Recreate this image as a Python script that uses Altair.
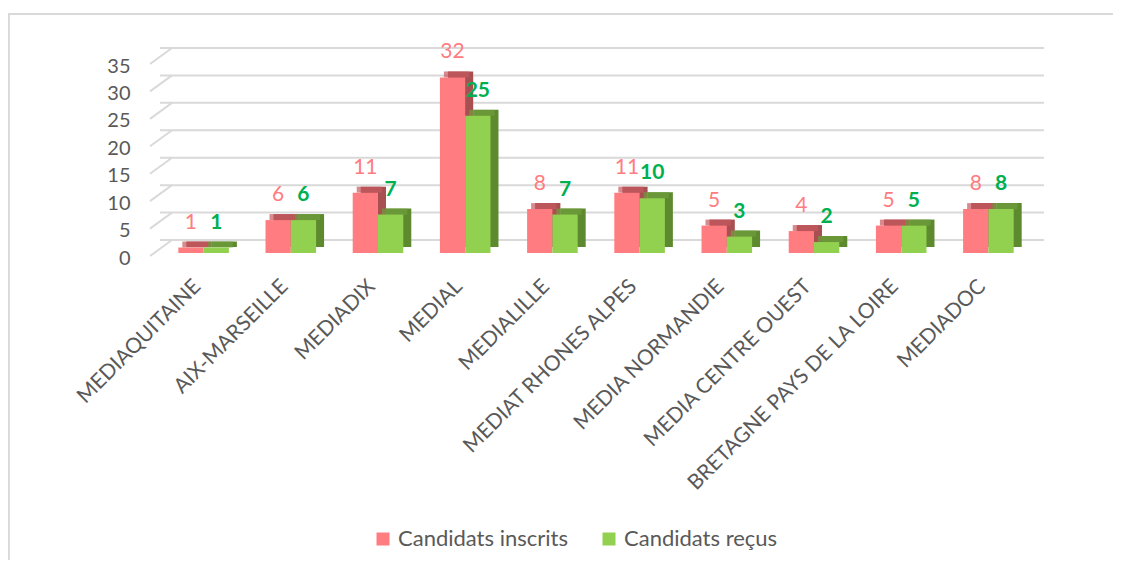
import altair as alt
import pandas as pd

categories = ["MEDIAQUITAINE", "AIX-MARSEILLE", "MEDIADIX", "MEDIAL", "MEDIALILLE",
              "MEDIAT RHONES ALPES", "MEDIA NORMANDIE", "MEDIA CENTRE OUEST",
              "BRETAGNE PAYS DE LA LOIRE", "MEDIADOC"]
inscrits = [1, 6, 11, 32, 8, 11, 5, 4, 5, 8]
recus = [1, 6, 7, 25, 7, 10, 3, 2, 5, 8]
series_names = ["Candidats inscrits", "Candidats reçus"]
y_ticks = [0, 5, 10, 15, 20, 25, 30, 35]

front_colors = ["#FF7C80", "#92D050"]
top_colors = ["#C65A5E", "#6F9E3C"]
side_colors = ["#A84F52", "#5E8A2F"]
label_colors = ["#FF7C80", "#00B050"]

rows = []
for c, a, b in zip(categories, inscrits, recus):
    rows.append({"cat": c, "series": series_names[0], "v": a})
    rows.append({"cat": c, "series": series_names[1], "v": b})
df = pd.DataFrame(rows)
grid_df = pd.DataFrame({"v": y_ticks})

FONT = "Lato"
GRAY = "#595959"
W = 872
H = 192
NCAT = len(categories)
STEP = W / NCAT
BAND = STEP * 0.58

x_enc = alt.X("cat:N", sort=categories,
              scale=alt.Scale(paddingInner=0.42, paddingOuter=0.21),
              axis=alt.Axis(title=None, labelAngle=-45, labelAlign="right",
                            labelBaseline="middle", labelPadding=30, labelLimit=0,
                            labelOffset=-6,
                            labelFontSize=21, labelFont=FONT, labelColor=GRAY,
                            domain=False, ticks=False, grid=False))


def xo(shift=0.0):
    return alt.XOffset("series:N", sort=series_names,
                       scale=alt.Scale(type="band", domain=series_names,
                                       paddingInner=0, paddingOuter=0,
                                       range=[shift, shift + BAND]))


y_scale = alt.Scale(domain=[0, 35], nice=False)
y_axis = alt.Axis(title=None, values=y_ticks, labelFontSize=20,
                  labelFont=FONT, labelColor=GRAY, labelPadding=30, labelOffset=5,
                  domain=False, ticks=False, grid=False)
y_enc = alt.Y("v:Q", scale=y_scale, axis=y_axis)

frame = alt.Chart(grid_df).mark_rect(fill=None, stroke="#D9D9D9", strokeWidth=1.5).encode(
    x=alt.value(-151.5), x2=alt.value(1000), y=alt.value(-47), y2=alt.value(700))

grid = alt.Chart(grid_df).mark_rule(color="#D9D9D9", strokeWidth=2, xOffset=12, yOffset=-13).encode(
    y=y_enc)
grid_diag = alt.Chart(grid_df).mark_rule(color="#D9D9D9", strokeWidth=2,
                                         yOffset=3, y2Offset=-13).encode(
    x=alt.value(-10), x2=alt.value(12),
    y=y_enc, y2=alt.Y2("v:Q"))

base = alt.Chart(df)

side = base.mark_bar(yOffset=-6).encode(
    x=x_enc, xOffset=xo(8), y=y_enc,
    color=alt.Color("series:N", scale=alt.Scale(domain=series_names, range=side_colors), legend=None))

top = base.mark_tick(orient="horizontal", thickness=6, size=BAND / 2, yOffset=-3).encode(
    x=x_enc, xOffset=xo(4), y=y_enc,
    color=alt.Color("series:N", scale=alt.Scale(domain=series_names, range=top_colors), legend=None))

front = base.mark_bar().encode(
    x=x_enc, xOffset=xo(), y=y_enc,
    color=alt.Color("series:N", scale=alt.Scale(domain=series_names, range=front_colors),
                    legend=alt.Legend(title=None, orient="none", legendX=212, legendY=467,
                                      direction="horizontal", symbolType="square",
                                      symbolSize=169, symbolStrokeWidth=0, labelLimit=0,
                                      labelFontSize=22, labelFont=FONT, labelColor=GRAY,
                                      labelOffset=4, columnPadding=30)))

lab_red = base.transform_filter(alt.datum.series == series_names[0]).mark_text(
    dy=-25, fontSize=21, font=FONT, color=label_colors[0], fontWeight="normal").encode(
    x=x_enc, xOffset=xo(), y=y_enc, text="v:Q")
lab_green = base.transform_filter(alt.datum.series == series_names[1]).mark_text(
    dy=-25, fontSize=21, font=FONT, color=label_colors[1], fontWeight="bold").encode(
    x=x_enc, xOffset=xo(), y=y_enc, text="v:Q")

chart = alt.layer(frame, grid, grid_diag, side, top, front, lab_red, lab_green).resolve_scale(
    color="independent", xOffset="independent").properties(
    width=W, height=H,
    padding={"left": 152, "top": 53, "right": 81, "bottom": 552 - 53 - H},
    autosize=alt.AutoSizeParams(type="none"),
    background="white"
).configure_view(stroke=None)

chart.save("out.html", embed_options={"renderer": "svg", "actions": False})
